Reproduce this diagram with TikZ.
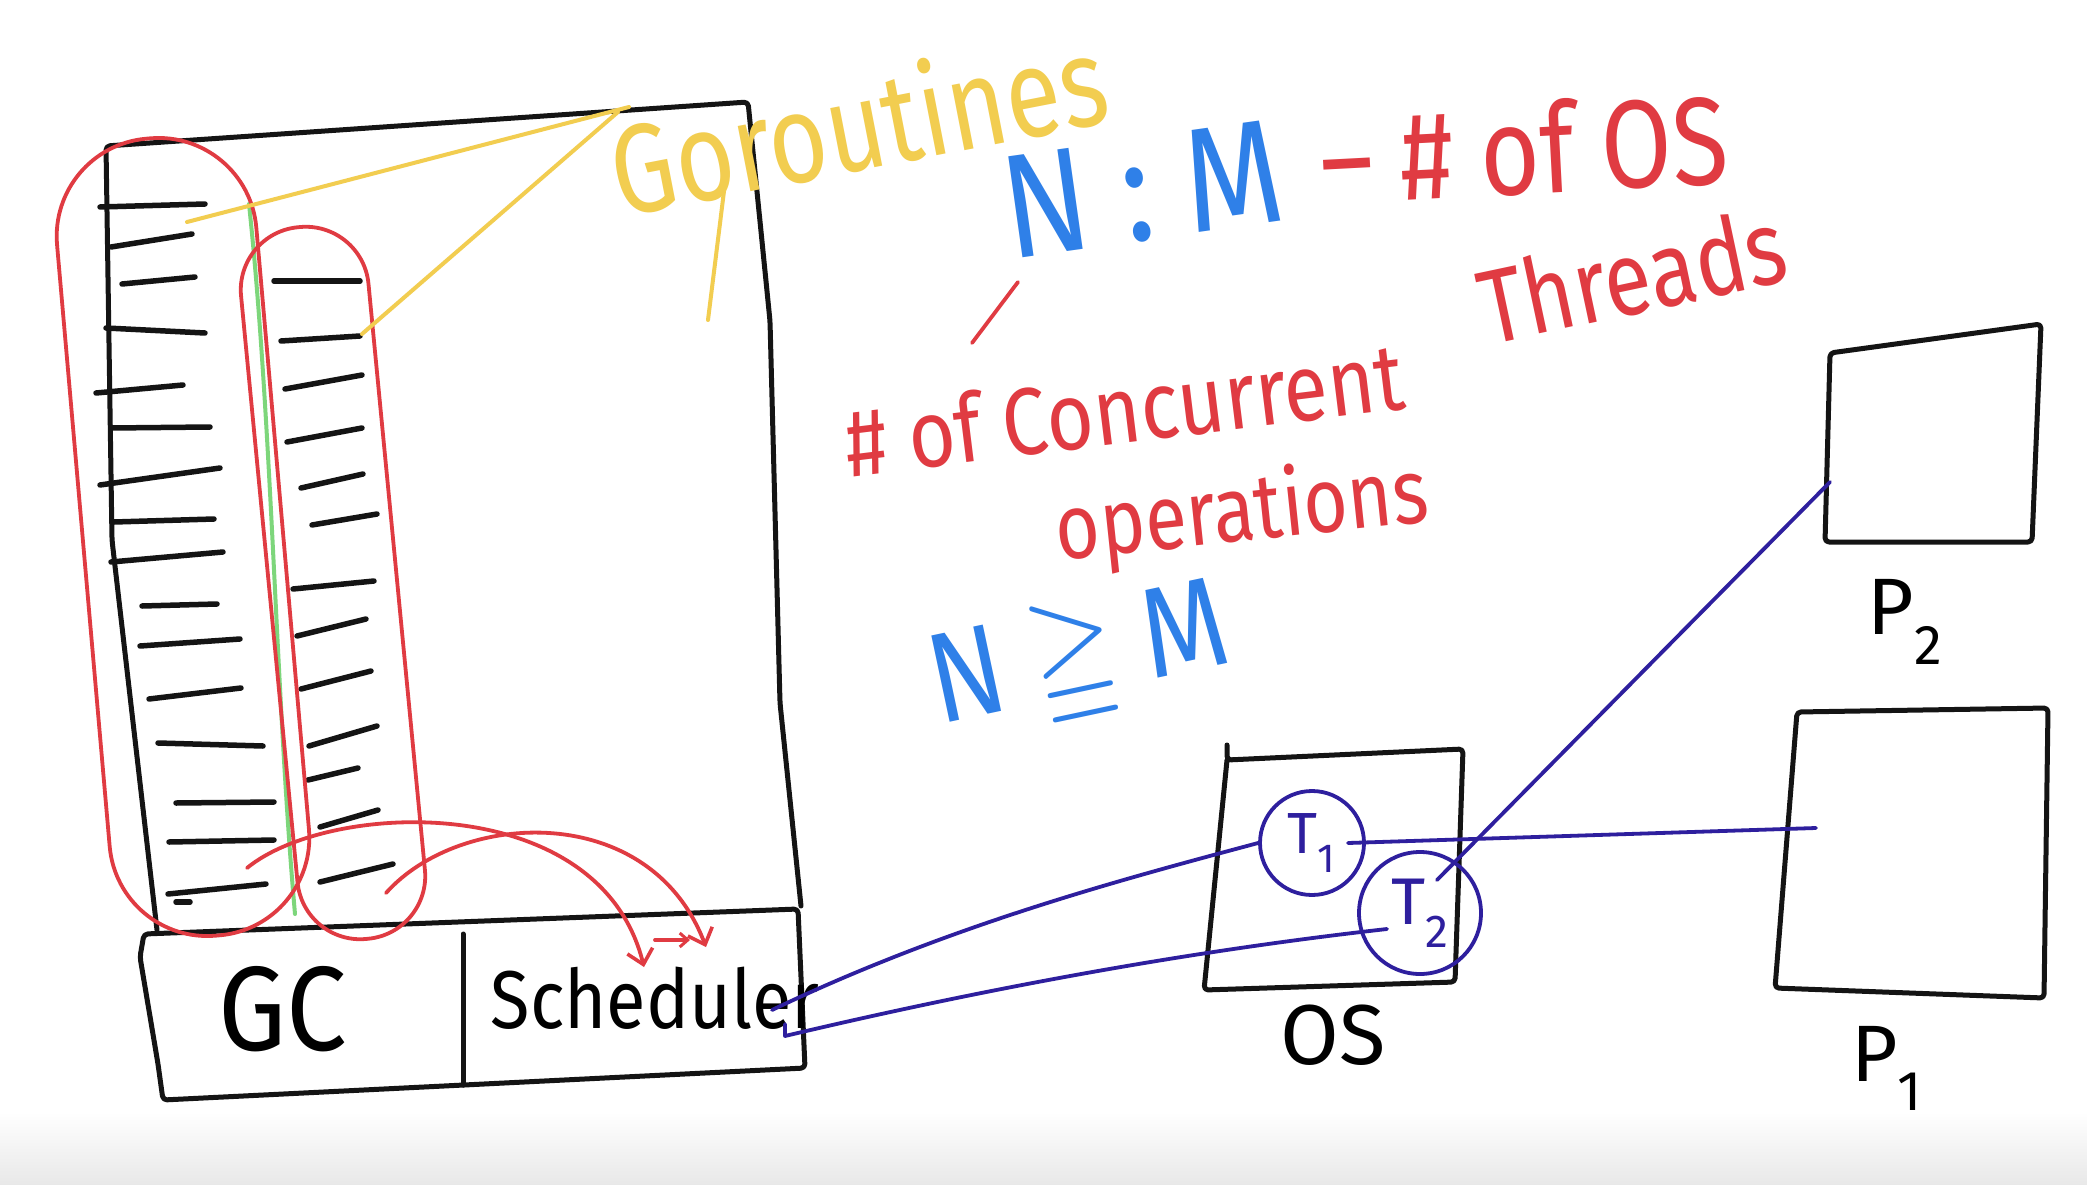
\documentclass[tikz,border=0pt]{standalone}
\usepackage{fontspec}
\usepackage{amssymb}
\setmainfont{Fira Sans}
\usetikzlibrary{arrows.meta,calc}
\definecolor{ink}{HTML}{141414}
\definecolor{penred}{HTML}{E03B42}
\definecolor{penyellow}{HTML}{F2CD50}
\definecolor{penblue}{HTML}{2F80E8}
\definecolor{penindigo}{HTML}{2E1F9E}
\definecolor{pengreen}{HTML}{7DD67B}
\tikzset{
  blk/.style={draw=ink, line width=5pt, line join=round, line cap=round, rounded corners=4pt},
  dashln/.style={draw=ink, line width=5.5pt, line cap=round},
  redpen/.style={draw=penred, line width=3.8pt, line cap=round, line join=round},
  redloop/.style={draw=penred, line width=3.8pt, inner sep=0pt},
  yellowpen/.style={draw=penyellow, line width=4pt, line cap=round},
  greenpen/.style={draw=pengreen, line width=4pt, line cap=round},
  indigopen/.style={draw=penindigo, line width=3.8pt, line cap=round, line join=round},
  tcircle/.style={draw=penindigo, line width=3.8pt, circle, inner sep=0pt, text=penindigo},
  handtxt/.style={inner sep=0pt, outer sep=0pt},
  barb/.style={-{Straight Barb[length=14pt,width=26pt,line width=3.6pt]}}
}
\begin{document}
\begin{tikzpicture}[x=1pt,y=-1pt]
\fill[white] (0,0) rectangle (2087,1185);
\shade[top color=white, bottom color=black!9] (0,1112) rectangle (2087,1185);
\useasboundingbox (0,0) rectangle (2087,1185);

% goroutine stack lines (left column)
\foreach \a/\b/\c/\d in {100/207/205/204, 111/247/192/234, 122/284/195/277, 106/328/205/333,
  96/393/183/385, 111/428/210/427, 100/485/220/468, 114/522/214/519, 111/562/223/552,
  142/606/217/604, 140/646/240/639, 149/699/241/688, 158/743/263/746, 176/803/274/802,
  169/842/274/840, 168/894/266/884, 176/902/190/902}
  \draw[dashln] (\a,\b) -- (\c,\d);
% right column
\foreach \a/\b/\c/\d in {274/281/360/281, 281/341/360/336, 285/389/362/375, 287/442/362/428,
  301/488/363/474, 312/525/377/514, 293/589/374/581, 297/636/366/619, 301/689/371/671,
  309/746/377/726, 308/780/358/768, 320/827/378/810, 320/882/393/864}
  \draw[dashln] (\a,\b) -- (\c,\d);

% big box (runtime)
\draw[blk] (157,930) -- (112,540) -- (106,146) -- (748,102) -- (770,321) -- (780,703) -- (801,906);
% GC / Scheduler box
\draw[blk] (144,934) -- (798,909) -- (805,1068) -- (163,1100) -- (158,1064) -- (140,957) -- cycle;
\draw[blk] (463,934) -- (463,1085);
\node[handtxt, font=\fontsize{120}{120}\selectfont] (gc) at (283,1009) {\scalebox{0.9}[1]{GC}};
\node[handtxt, font=\fontsize{82}{82}\selectfont] (sched) at (655,998) {\scalebox{0.88}[1]{Scheduler}};

% green divider
\draw[greenpen] (249,204) .. controls (272,420) and (276,700) .. (295,914);

% red loops around goroutine groups
\node[redloop, minimum width=200pt, minimum height=800pt, rounded corners=98pt, rotate=5] (gleft) at (183,537) {};
\node[redloop, minimum width=128pt, minimum height=715pt, rounded corners=63pt, rotate=5.5] (gright) at (333,583) {};

% red scheduling arrows
\coordinate (ra0) at (247,868);
\coordinate (ra1) at (644,967);
\coordinate (rb0) at (386,893);
\coordinate (rb1) at (706,947);
\draw[redpen, barb] (ra0) .. controls (330,800) and (600,790) .. (ra1);
\draw[redpen, barb] (rb0) .. controls (460,810) and (650,800) .. (rb1);
\draw[redpen, -{Straight Barb[length=8pt,width=14pt,line width=3pt]}] (655,940) -- (690,940);

% Goroutines label
\node[handtxt, text=penyellow, rotate=11, font=\fontsize{126}{126}\selectfont] (goro) at (858,122) {\scalebox{0.8}[1]{Goroutines}};
\coordinate (ya) at (187,222);
\coordinate (yb) at (362,334);
\coordinate (ga) at (629,107);
\coordinate (gb) at (618,112);
\coordinate (gc0) at (708,320);
\coordinate (gc1) at (726,175);
\draw[yellowpen] (ya) -- (ga);
\draw[yellowpen] (yb) -- (gb);
\draw[yellowpen] (gc0) -- (gc1);

% N:M annotations
\node[handtxt, text=penblue, rotate=8, font=\fontsize{148}{148}\selectfont] (nm) at (1142,190) {\scalebox{0.85}[1]{N : M}};
\node[handtxt, text=penred, rotate=3, font=\fontsize{125}{125}\selectfont] (osth) at (1524,148) {\scalebox{0.82}[1]{– \# of OS}};
\node[handtxt, text=penred, rotate=12, font=\fontsize{105}{105}\selectfont] (thr) at (1632,275) {\scalebox{0.82}[1]{Threads}};
\coordinate (sl0) at (1018,282);
\coordinate (sl1) at (972,343);
\draw[redpen] (sl0) -- (sl1);
\node[handtxt, text=penred, rotate=7, font=\fontsize{95}{95}\selectfont] (conc) at (1124,408) {\scalebox{0.85}[1]{\# of Concurrent}};
\node[handtxt, text=penred, rotate=6, font=\fontsize{92}{92}\selectfont] (ops) at (1242,515) {\scalebox{0.83}[1]{operations}};
\node[handtxt, text=penblue, rotate=12, font=\fontsize{128}{128}\selectfont] (ngm) at (1080,662) {\scalebox{0.85}[1]{N $\geqq$ M}};

% OS box
\draw[blk] (1227,745) -- (1227,760) -- (1463,749) -- (1455,982) -- (1204,990) -- (1227,760);
\node[handtxt, font=\fontsize{85}{85}\selectfont] (oslbl) at (1333,1035) {OS};
\node[tcircle, minimum size=104pt, font=\fontsize{58}{58}\selectfont] (t1) at (1312,843) {T\textsubscript{1}};
\node[tcircle, minimum size=122pt, font=\fontsize{66}{66}\selectfont] (t2) at (1420,913) {T\textsubscript{2}};

% processors
\draw[blk] (1830,353) -- (2041,324) -- (2032,542) -- (1825,542) -- cycle;
\node[handtxt, font=\fontsize{80}{80}\selectfont] (p2) at (1905,622) {P\textsubscript{2}};
\draw[blk] (1797,712) -- (2048,708) -- (2044,998) -- (1775,988) -- cycle;
\node[handtxt, font=\fontsize{80}{80}\selectfont] (p1) at (1887,1068) {P\textsubscript{1}};

% indigo thread connections
\coordinate (s1) at (772,1010);
\coordinate (s2) at (785,1036);
\coordinate (t2in) at (1387,929);
\coordinate (t1in) at (1348,843);
\coordinate (t2top) at (1437,880);
\coordinate (p1in) at (1816,828);
\coordinate (p2in) at (1830,482);
\draw[indigopen] (s1) .. controls (950,925) and (1120,880) .. (t1.west);
\draw[indigopen] (785,1024) -- (s2) .. controls (1000,985) and (1200,950) .. (t2in);
\draw[indigopen] (t1in) -- (p1in);
\draw[indigopen] (t2top) -- (p2in);
\end{tikzpicture}
\end{document}
